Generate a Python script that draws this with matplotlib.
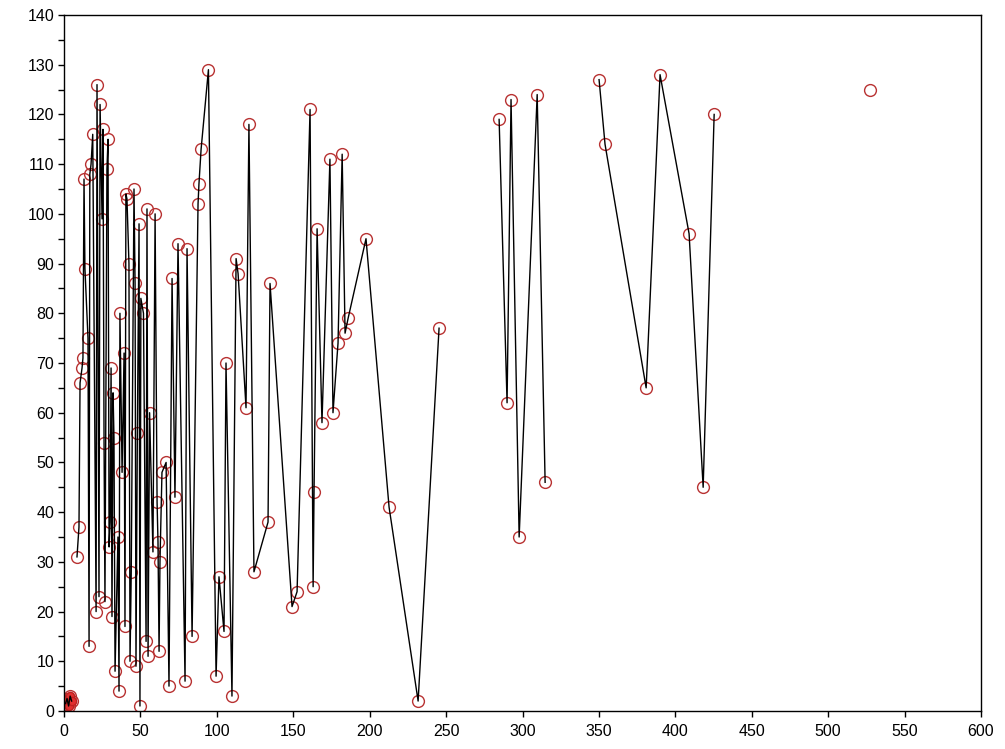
import numpy as np
import matplotlib
matplotlib.use("Agg")
import matplotlib.pyplot as plt
from matplotlib.ticker import MultipleLocator

# ---- data, sorted by x ----
x_vals = [1.0, 2.0, 3.0, 4.0, 5.0,
          8.5, 9.8, 10.5, 11.8, 12.4, 13.1, 13.7, 15.7, 16.4, 16.9, 17.7, 18.8,
          21.0, 21.6, 22.9, 23.6, 24.9, 25.5, 26.2, 26.8, 28.1, 28.8, 29.5, 30.2,
          30.8, 31.4, 32.1, 32.7, 33.4, 35.3, 36.0, 36.6, 38.0, 39.3, 39.9, 40.5,
          41.2, 42.5, 43.2, 44.0, 45.8, 46.5, 47.1, 48.0, 49.1, 49.7, 50.3, 52.0,
          53.7, 54.3, 55.0, 56.0, 58.2, 59.6, 60.9, 61.5, 62.2, 62.8, 64.1, 66.8,
          68.7, 70.7, 72.6, 74.6, 79.2, 80.5, 83.8, 87.7, 88.3, 89.7, 94.5, 99.5,
          101.4, 104.7, 106.0, 109.9, 112.6, 113.9, 119.1, 121.0, 124.3, 133.5,
          134.8, 149.2, 152.5, 161.0, 163.0, 163.6, 165.6, 168.8, 174.0, 176.0,
          179.3, 182.0, 183.9, 185.9, 197.6, 212.7, 231.7, 245.4,
          284.7, 289.9, 292.5, 297.8, 309.6, 314.8,
          350.1, 354.0, 380.9, 390.0, 409.0, 418.2, 425.4,
          527.5]
y_vals = [1.5, 2.5, 1.0, 3.0, 2.0,
          31, 37, 66, 69, 71, 107, 89, 75, 13, 108, 110, 116,
          20, 126, 23, 122, 99, 117, 54, 22, 109, 115, 33, 38,
          69, 19, 64, 55, 8, 35, 4, 80, 48, 72, 17, 104,
          103, 90, 10, 28, 105, 86, 9, 56, 98, 1, 83, 80,
          14, 101, 11, 60, 32, 100, 42, 34, 12, 30, 48, 50,
          5, 87, 43, 94, 6, 93, 15, 102, 106, 113, 129, 7,
          27, 16, 70, 3, 91, 88, 61, 118, 28, 38,
          86, 21, 24, 121, 25, 44, 97, 58, 111, 60,
          74, 112, 76, 79, 95, 41, 2, 77,
          119, 62, 123, 35, 124, 46,
          127, 114, 65, 128, 96, 45, 120,
          125]
# x positions of the gaps where the connecting line is broken
line_gaps_x = [7, 265, 332, 470]

x_ticks = [0, 50, 100, 150, 200, 250, 300, 350, 400, 450, 500, 550, 600]
y_ticks = [0, 10, 20, 30, 40, 50, 60, 70, 80, 90, 100, 110, 120, 130, 140]

# ---- figure ----
fig = plt.figure(figsize=(10.05, 7.49), dpi=100)
ax = fig.add_axes([64 / 1005, 38 / 749, 917 / 1005, 696 / 749])

x = np.array(x_vals, dtype=float)
y = np.array(y_vals, dtype=float)
cuts = [0] + list(np.searchsorted(x, line_gaps_x)) + [len(x)]

ax.plot(x, y, linestyle="none", marker="o", markersize=8.5,
        markerfacecolor="none", markeredgecolor="#b83232",
        markeredgewidth=1.0, zorder=2)
# small red filled cluster near the origin
n0 = cuts[1]
ax.plot(x[:n0], y[:n0], linestyle="none", marker="o", markersize=6,
        markerfacecolor="#e03030", markeredgecolor="#c02020", zorder=2)

for s, e in zip(cuts[:-1], cuts[1:]):
    ax.plot(x[s:e], y[s:e], color="black", linewidth=1.0, zorder=3)

ax.set_xlim(0, 600)
ax.set_ylim(0, 140)
ax.set_xticks(x_ticks)
ax.set_yticks(y_ticks)
ax.yaxis.set_minor_locator(MultipleLocator(5))
ax.tick_params(axis="both", which="both", direction="out", length=4,
               width=1, labelsize=11.5, colors="black")
ax.tick_params(axis="x", pad=5)
ax.tick_params(axis="y", pad=3)
for lbl in ax.get_xticklabels() + ax.get_yticklabels():
    lbl.set_fontfamily("Liberation Sans")
for sp in ax.spines.values():
    sp.set_linewidth(1.0)
    sp.set_color("black")

fig.savefig("out.png", dpi=100, facecolor="white")
